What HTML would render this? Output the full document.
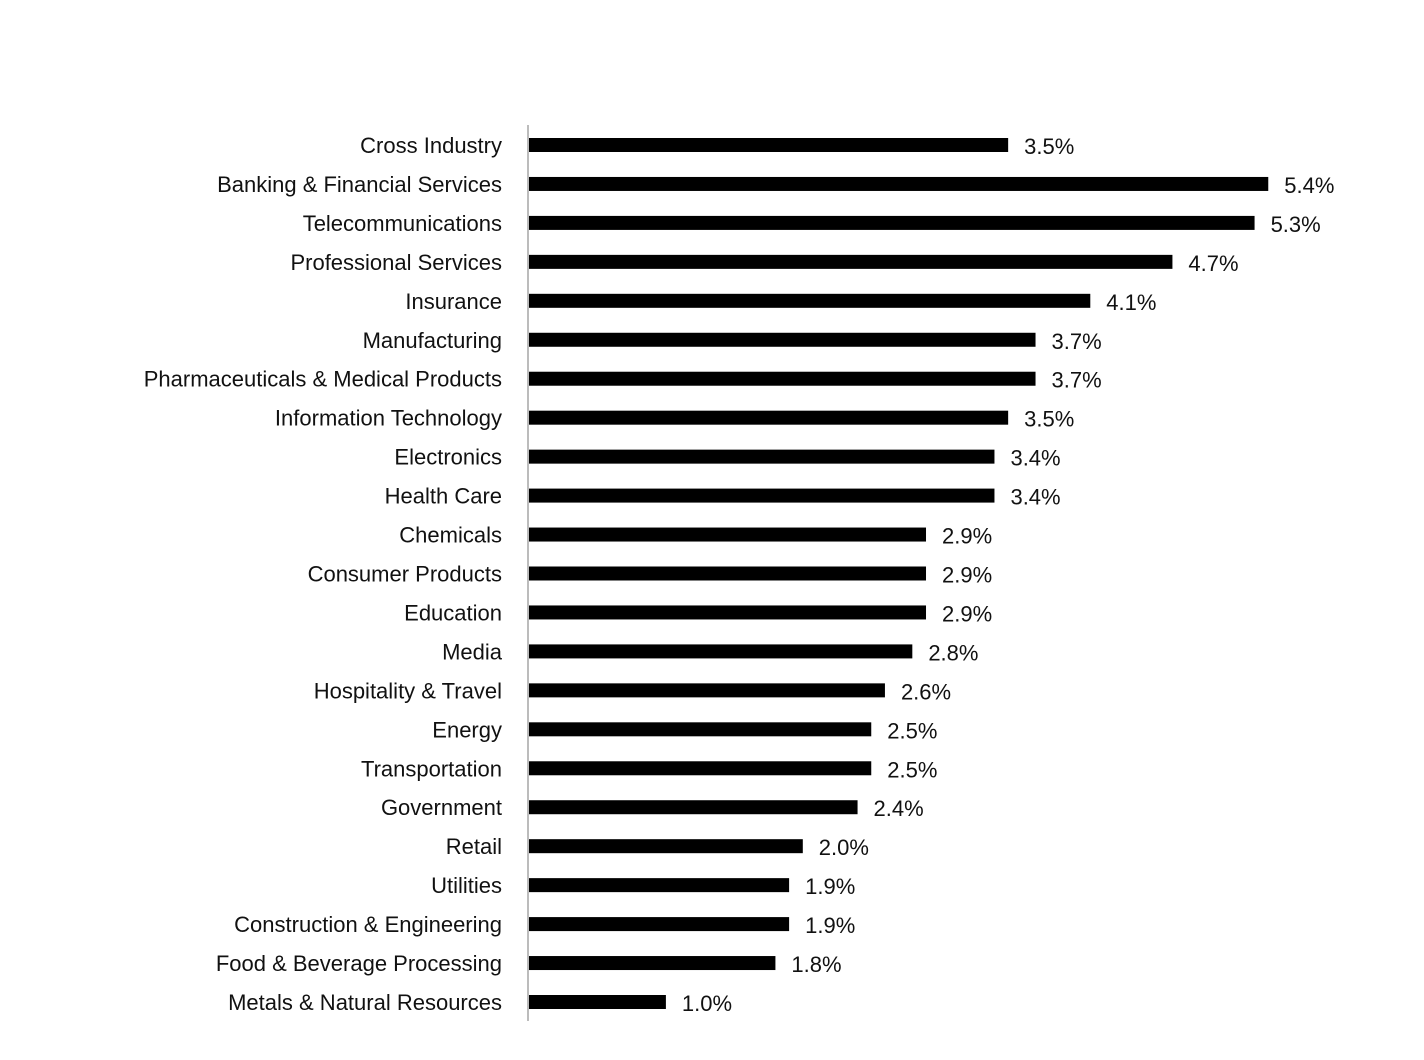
<!DOCTYPE html>
<html><head><meta charset="utf-8"><style>
html,body{margin:0;padding:0;background:#fff;}
svg{display:block;font-family:"Liberation Sans",sans-serif;}
</style></head><body>
<svg id="chart" width="1424" height="1060" viewBox="0 0 1424 1060">
<line x1="528" y1="125" x2="528" y2="1021" stroke="#a6a6a6" stroke-width="1.5"/>
<g id="bars"></g>
</svg>
<script>
const categories = ["Cross Industry","Banking & Financial Services","Telecommunications","Professional Services","Insurance","Manufacturing","Pharmaceuticals & Medical Products","Information Technology","Electronics","Health Care","Chemicals","Consumer Products","Education","Media","Hospitality & Travel","Energy","Transportation","Government","Retail","Utilities","Construction & Engineering","Food & Beverage Processing","Metals & Natural Resources"];
const values = [3.5,5.4,5.3,4.7,4.1,3.7,3.7,3.5,3.4,3.4,2.9,2.9,2.9,2.8,2.6,2.5,2.5,2.4,2.0,1.9,1.9,1.8,1.0];
const valueLabels = ["3.5%","5.4%","5.3%","4.7%","4.1%","3.7%","3.7%","3.5%","3.4%","3.4%","2.9%","2.9%","2.9%","2.8%","2.6%","2.5%","2.5%","2.4%","2.0%","1.9%","1.9%","1.8%","1.0%"];

const x0 = 529, pxPer = 136.9;
const xScale = v => x0 + v * pxPer;
const yTop = 145, step = (1002 - 145) / (categories.length - 1);
const yScale = i => yTop + i * step;
const ns = "http://www.w3.org/2000/svg";
const g = document.getElementById("bars");
categories.forEach((c, i) => {
  const y = yScale(i);
  const r = document.createElementNS(ns, "rect");
  
  
  r.setAttribute("x", x0);
  r.setAttribute("y", y - 7);
  r.setAttribute("width", xScale(values[i]) - x0);
  r.setAttribute("height", 14);
  r.setAttribute("fill", "#000");
  g.appendChild(r);
  const t = document.createElementNS(ns, "text");
  
  
  t.setAttribute("x", 502);
  t.setAttribute("y", y + 8);
  t.setAttribute("text-anchor", "end");
  t.setAttribute("font-size", "22");
  t.setAttribute("fill", "#111");
  t.textContent = c;
  g.appendChild(t);
  const v = document.createElementNS(ns, "text");
  
  
  v.setAttribute("x", xScale(values[i]) + 16);
  v.setAttribute("y", y + 9);
  v.setAttribute("font-size", "22");
  v.setAttribute("fill", "#111");
  v.textContent = valueLabels[i];
  g.appendChild(v);
});
</script>
</body></html>
